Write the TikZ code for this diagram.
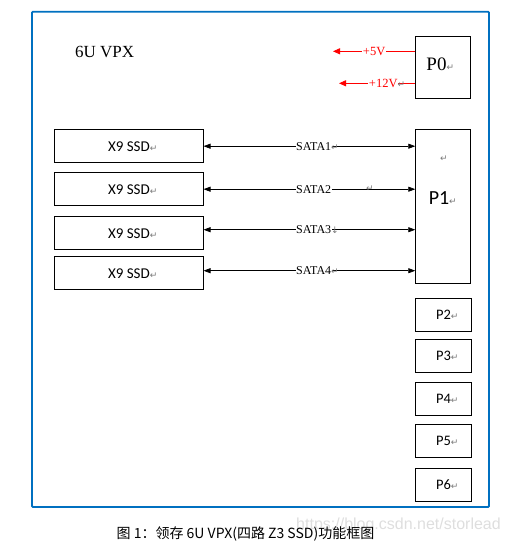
\documentclass[tikz,border=0pt]{standalone}
\usepackage{fontspec}
\setmainfont{Liberation Serif}
\newfontfamily\cjkf{Noto Sans CJK SC}
\newfontfamily\calf{Carlito}
\newfontfamily\symf{DejaVu Sans}
\newfontfamily\wmf{Liberation Sans}
\usetikzlibrary{arrows.meta}
\definecolor{frameblue}{RGB}{0,112,192}
\definecolor{markgray}{RGB}{120,120,120}
\newcommand\rmk{{\symf\fontsize{9}{9}\selectfont\color{markgray}↵}}
\newcommand\dmk{{\symf\fontsize{9}{9}\selectfont\color{markgray}↓}}
\begin{document}
\begin{tikzpicture}[x=1pt,y=-1pt,
  box/.style={draw=black, line width=0.8pt, inner sep=0pt, anchor=north west},
  ssdbox/.style={box, minimum width=148.4pt, minimum height=33pt, font=\calf\fontsize{15}{15}\selectfont},
  pbox/.style={box, minimum width=55.5pt, minimum height=32.3pt, font=\calf\fontsize{14.5}{14.5}\selectfont},
  sata/.style={<->, >={Triangle[length=7pt,width=5pt]}, line width=0.7pt},
  satalbl/.style={fill=white, inner sep=0.6pt, font=\fontsize{12}{12}\selectfont},
  pwr/.style={->, >={Triangle[length=7pt,width=6pt]}, draw=red, line width=0.8pt},
  pwrlbl/.style={fill=white, inner sep=0.6pt, text=red, font=\fontsize{12.5}{12.5}\selectfont}]
\useasboundingbox (0,0) rectangle (509,545);
% frame
\draw[frameblue, line width=1.8pt, rounded corners=1pt] (32,11.7) rectangle (489,507);
\node[anchor=west, inner sep=0pt, font=\fontsize{17}{17}\selectfont] (title) at (75,52) {6U VPX};
% P0
\node[box, minimum width=55pt, minimum height=62pt] (p0) at (415.3,36.3) {};
\node[inner sep=0pt, font=\fontsize{19}{19}\selectfont] (p0t) at (436.5,64) {P0\rlap{\rmk}};
\coordinate (v5) at (333,51.3);
\coordinate (v12) at (339,83.3);
\draw[pwr] (p0.west |- v5) -- node[pwrlbl, pos=0.5] (l5) {+5V} (v5);
\draw[pwr] (p0.west |- v12) -- node[pwrlbl, pos=0.42] (l12) {+12V\rlap{\rmk}} (v12);
% SSD boxes
\node[ssdbox] (s1) at (54.3,129.3) {X9 SSD\rlap{\rmk}};
\node[ssdbox] (s2) at (54.3,172.3) {X9 SSD\rlap{\rmk}};
\node[ssdbox] (s3) at (54.3,216.3) {X9 SSD\rlap{\rmk}};
\node[ssdbox] (s4) at (54.3,256.3) {X9 SSD\rlap{\rmk}};
% P1
\node[box, minimum width=55pt, minimum height=154pt] (p1) at (415.3,129.3) {};
\node[inner sep=0pt, font=\calf\fontsize{20}{20}\selectfont] (p1t) at (439,198) {P1\rlap{\rmk}};
\node[inner sep=0pt] (p1m) at (444,159) {\rmk};
% SATA links
\coordinate (s3e) at ([yshift=3.5pt]s3.east);
\coordinate (s4e) at ([yshift=2.5pt]s4.east);
\draw[sata] (s1.east) -- node[satalbl, pos=0.52] (a1) {SATA1\rlap{\rmk}} (p1.west |- s1.east);
\draw[sata] (s2.east) -- node[satalbl, pos=0.52] (a2) {SATA2} (p1.west |- s2.east);
\node[inner sep=0pt] (a2m) at (370,189) {\rmk};
\draw[sata] (s3e) -- node[satalbl, pos=0.52] (a3) {SATA3\rlap{\dmk}} (p1.west |- s3e);
\draw[sata] (s4e) -- node[satalbl, pos=0.52] (a4) {SATA4\rlap{\rmk}} (p1.west |- s4e);
% P2-P6
\node[pbox] (p2) at (415.3,298.3) {P2\rlap{\rmk}};
\node[pbox] (p3) at (415.3,339.3) {P3\rlap{\rmk}};
\node[pbox] (p4) at (415.3,382.3) {P4\rlap{\rmk}};
\node[pbox] (p5) at (415.3,424.3) {P5\rlap{\rmk}};
\node[pbox] (p6) at (415.3,468.3) {P6\rlap{\rmk}};
% caption and watermark
\node[inner sep=0pt, text=black!13, font=\wmf\fontsize{16}{16}\selectfont] (wm) at (398.5,525) {https://blog.csdn.net/storlead};
\node[inner sep=0pt, font=\cjkf\fontsize{14}{14}\selectfont] (cap) at (245.5,534) {图 1：领存 6U VPX(四路 Z3 SSD)功能框图};
\end{tikzpicture}
\end{document}
